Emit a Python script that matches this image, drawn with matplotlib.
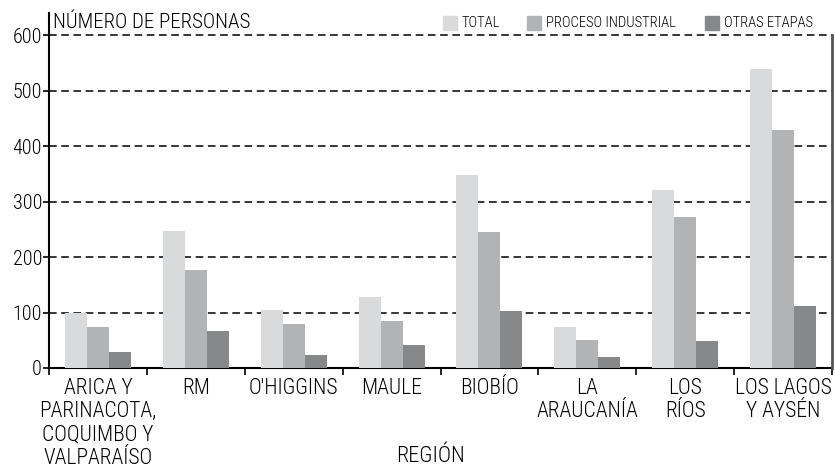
import numpy as np
import matplotlib.pyplot as plt
from matplotlib.patches import Rectangle

plt.rcParams['font.family'] = ['Roboto Condensed', 'DejaVu Sans']
plt.rcParams['font.weight'] = 'light'

regiones = ['ARICA Y\nPARINACOTA,\nCOQUIMBO Y\nVALPARAÍSO', 'RM', "O'HIGGINS", 'MAULE',
            'BIOBÍO', 'LA\nARAUCANÍA', 'LOS\nRÍOS', 'LOS LAGOS\nY AYSÉN']
total = [100, 247, 105, 128, 348, 73, 321, 539]
proceso = [73, 177, 80, 85, 245, 51, 272, 429]
otras = [28, 67, 24, 42, 103, 20, 49, 111]
series = ['TOTAL', 'PROCESO INDUSTRIAL', 'OTRAS ETAPAS']
colores = ['#d9dadc', '#b2b3b5', '#87888a']

fig = plt.figure(figsize=(8.35, 4.69), dpi=100)
ax = fig.add_axes([0.0587, 0.2154, 0.9377, 0.7569])

ind = np.arange(len(regiones))
w = 0.225
for k, vals in enumerate([total, proceso, otras]):
    ax.bar(ind + (k - 1) * w, vals, w, color=colores[k], zorder=3)

ax.set_xlim(-0.5, len(regiones) - 0.5)
ax.set_ylim(0, 640)
ax.set_yticks(range(0, 601, 100))
ax.tick_params(axis='y', labelsize=14.5, length=4, width=1.2, pad=1)

# ticks between groups, labels centered
ax.set_xticks(np.arange(len(regiones) + 1) - 0.5)
ax.set_xticklabels([])
ax.set_xticks(ind, minor=True)
ax.set_xticklabels(regiones, minor=True, fontsize=15.5, linespacing=1.15)
ax.tick_params(axis='x', which='major', length=5, width=1.2)
ax.tick_params(axis='x', which='minor', length=0, pad=7)

for y in range(100, 601, 100):
    ax.axhline(y, color='black', lw=1.1, ls=(0, (5, 3)), zorder=1)

ax.spines['top'].set_visible(False)
ax.spines['left'].set_linewidth(1.5)
ax.spines['bottom'].set_linewidth(1.5)
ax.spines['bottom'].set_zorder(2)
ax.spines['right'].set_bounds(0, 600)
ax.spines['right'].set_color('#555555')
ax.spines['right'].set_linewidth(2)

fig.text(0.064, 0.953, 'NÚMERO DE PERSONAS', fontsize=15, va='center', ha='left')
fig.text(0.515, 0.027, 'REGIÓN', fontsize=16, va='center', ha='center')

# legend
leg_x = [443, 527, 705]
for k in range(3):
    fig.patches.append(Rectangle((leg_x[k] / 835, 1 - 30 / 469), 14 / 835, 14 / 469,
                                 transform=fig.transFigure, color=colores[k]))
    fig.text((leg_x[k] + 19) / 835, 1 - 23 / 469, series[k], fontsize=10.5,
             va='center', ha='left')

fig.savefig('out.png', dpi=100)
